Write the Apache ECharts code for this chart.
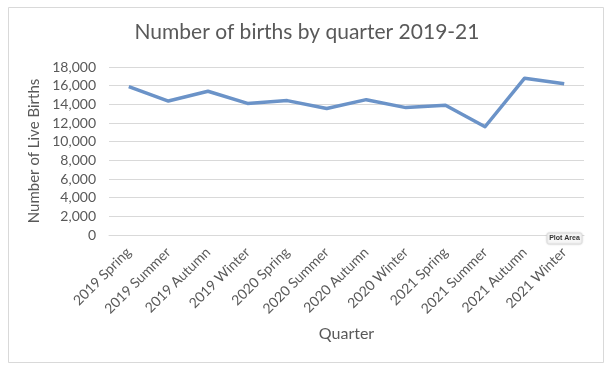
<!DOCTYPE html>
<html>
<head>
<meta charset="utf-8">
<script src="https://cdn.jsdelivr.net/npm/echarts@6/dist/echarts.min.js"></script>
<style>
html,body{margin:0;padding:0;background:#fff;}
#c{width:614px;height:369px;}
</style>
</head>
<body>
<div id="c"></div>
<script>
const categories = ['2019 Spring','2019 Summer','2019 Autumn','2019 Winter','2020 Spring','2020 Summer','2020 Autumn','2020 Winter','2021 Spring','2021 Summer','2021 Autumn','2021 Winter'];
const births = [15900, 14350, 15400, 14100, 14400, 13550, 14500, 13650, 13900, 11600, 16800, 16200];
const yMin = 0, yMax = 18000, yStep = 2000;

const FONT = 'Lato';
const chart = echarts.init(document.getElementById('c'));
chart.setOption({
  animation: false,
  backgroundColor: '#fff',
  title: {
    text: 'Number of births by quarter 2019-21',
    left: 'center', top: 17,
    textStyle: {fontFamily: FONT, fontSize: 21, fontWeight: 'normal', color: '#595959'}
  },
  grid: {left: 109, right: 30, top: 67, bottom: 134},
  xAxis: {
    type: 'category',
    data: categories,
    boundaryGap: true,
    name: 'Quarter',
    nameLocation: 'middle',
    nameGap: 91,
    nameTextStyle: {fontFamily: FONT, fontSize: 16, color: '#595959'},
    axisLine: {show: true, lineStyle: {color: '#d9d9d9'}},
    axisTick: {show: false},
    axisLabel: {rotate: 45, interval: 0, margin: 15, fontFamily: FONT, fontSize: 14, color: '#595959'}
  },
  yAxis: {
    type: 'value',
    min: yMin, max: yMax, interval: yStep,
    name: 'Number of Live Births',
    nameLocation: 'middle',
    nameGap: 61,
    nameTextStyle: {fontFamily: FONT, fontSize: 15, color: '#595959'},
    axisLine: {show: false},
    axisTick: {show: false},
    splitLine: {lineStyle: {color: '#d9d9d9', width: 1}},
    axisLabel: {
      margin: 13, fontFamily: FONT, fontSize: 14, color: '#595959',
      formatter: v => v.toLocaleString('en-US')
    }
  },
  series: [{
    type: 'line',
    data: births,
    symbol: 'none',
    lineStyle: {color: '#6b93c8', width: 3.5, join: 'round'},
    itemStyle: {color: '#6b93c8'}
  }],
  graphic: [
    {type: 'rect', shape: {x: 8.5, y: 7.5, width: 595, height: 355}, style: {fill: 'none', stroke: '#d9d9d9', lineWidth: 1}, silent: true},
    {type: 'rect', shape: {x: 547, y: 233, width: 35, height: 11, r: 2}, style: {fill: '#f7f7f7', stroke: '#e0e0e0', lineWidth: 1, shadowBlur: 2, shadowColor: 'rgba(0,0,0,0.15)'}, z: 10},
    {type: 'text', x: 564.5, y: 238.5, style: {text: 'Plot Area', font: 'bold 7px "Liberation Sans"', fill: '#333', align: 'center', verticalAlign: 'middle'}, z: 11}
  ]
});
</script>
</body>
</html>
